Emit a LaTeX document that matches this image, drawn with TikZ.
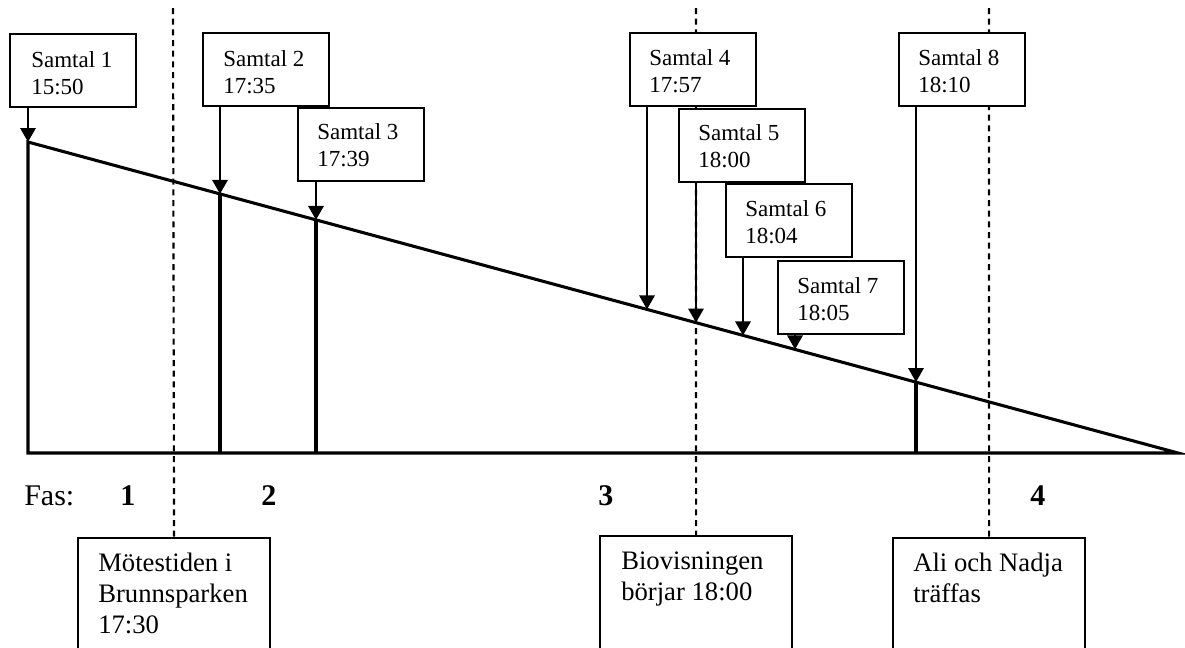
\documentclass[tikz,border=0pt]{standalone}
\usepackage{fontspec}
\setmainfont{Liberation Serif}
\usetikzlibrary{arrows.meta,calc}
\begin{document}
\begin{tikzpicture}[x=0.75pt,y=-0.75pt,
  box/.style={draw, line width=1.6pt, fill=white, minimum width=94.5pt, minimum height=54.75pt, anchor=north west, inner sep=0pt},
  lowbox/.style={draw, line width=1.6pt, fill=white, minimum width=144pt, minimum height=112.5pt, anchor=north west, inner sep=0pt},
  txt/.style={anchor=base west, align=left, inner sep=0pt, font=\fontsize{17.25pt}{20.25pt}\selectfont},
  lowtxt/.style={anchor=base west, align=left, inner sep=0pt, font=\fontsize{20pt}{23.25pt}\selectfont},
  fas/.style={anchor=base west, inner sep=0pt, font=\fontsize{22.5pt}{27pt}\selectfont},
  fasnum/.style={fas, font=\fontsize{22.5pt}{27pt}\selectfont\bfseries},
  main/.style={line width=2.3pt},
  arr/.style={line width=1.6pt, -{Triangle[length=10.5pt,width=11.5pt]}},
  phaseline/.style={line width=1.6pt, dash pattern=on 4.5pt off 3.5pt},
]
\useasboundingbox (0,0) rectangle (1185,647);
\clip (0,0) rectangle (1185,647);

% triangle corners and points on the slope
\coordinate (A) at (28,142);
\coordinate (B) at (28,453);
\coordinate (C) at (1178,453);
\coordinate (p1) at (28,142);
\coordinate (p2) at (220,193.9);
\coordinate (p3) at (316,219.9);
\coordinate (p4) at (647,309.4);
\coordinate (p5) at (696,322.6);
\coordinate (p6) at (743,335.4);
\coordinate (p7) at (795,349.4);
\coordinate (p8) at (916,382.1);
\coordinate (d1) at (173,8);
\coordinate (d2) at (696,8);
\coordinate (d3) at (989,8);

% bottom boxes
\node[lowbox] (m) at (77,537) {};
\node[lowbox] (b) at (599,535) {};
\node[lowbox] (a) at (892,537) {};

% phase lines
\draw[phaseline] (d1) -- (m.north);
\draw[phaseline] (d2) -- (b.north);
\draw[phaseline] (d3) -- (a.north);

% bottom box texts (anchor = baseline of last line)
\node[lowtxt] (mt) at (98,633) {Mötestiden i\\Brunnsparken\\17:30};
\node[lowtxt] (bt) at (621,600) {Biovisningen\\börjar 18:00};
\node[lowtxt] (at) at (913,602) {Ali och Nadja\\träffas};

% triangle
\draw[main] (A) -- (B) -- (C) -- cycle;
\draw[main] (p2) -- (p2 |- B);
\draw[main] (p3) -- (p3 |- B);
\draw[main] (p8) -- (p8 |- B);

% Fas row
\node[fas] (fas) at (24,505) {Fas:};
\node[fasnum] (f1) at (120,505) {1};
\node[fasnum] (f2) at (261,505) {2};
\node[fasnum] (f3) at (598,505) {3};
\node[fasnum] (f4) at (1030,505) {4};

% top boxes
\node[box] (s1) at (9,33) {};
\node[box] (s2) at (202,32) {};
\node[box] (s3) at (297,107) {};
\node[box] (s4) at (629,32) {};
\node[box] (s5) at (678,108) {};
\node[box] (s6) at (725,183) {};
\node[box] (s7) at (777,260) {};
\node[box] (s8) at (898,32) {};

\node[txt] (s1t) at (31,94) {Samtal 1\\15:50};
\node[txt] (s2t) at (223,93) {Samtal 2\\17:35};
\node[txt] (s3t) at (317,166) {Samtal 3\\17:39};
\node[txt] (s4t) at (649,92) {Samtal 4\\17:57};
\node[txt] (s5t) at (698,167) {Samtal 5\\18:00};
\node[txt] (s6t) at (745,243) {Samtal 6\\18:04};
\node[txt] (s7t) at (797,320) {Samtal 7\\18:05};
\node[txt] (s8t) at (918,92) {Samtal 8\\18:10};

% arrows
\draw[arr] (p1 |- s1.south) -- (p1);
\draw[arr] (p2 |- s2.south) -- (p2);
\draw[arr] (p3 |- s3.south) -- (p3);
\draw[arr] (p4 |- s4.south) -- (p4);
\draw[arr] (p5 |- s5.south) -- (p5);
\draw[arr] (p6 |- s6.south) -- (p6);
\draw[arr] (p7 |- s7.south) -- (p7);
\draw[arr] (p8 |- s8.south) -- (p8);
\end{tikzpicture}
\end{document}
